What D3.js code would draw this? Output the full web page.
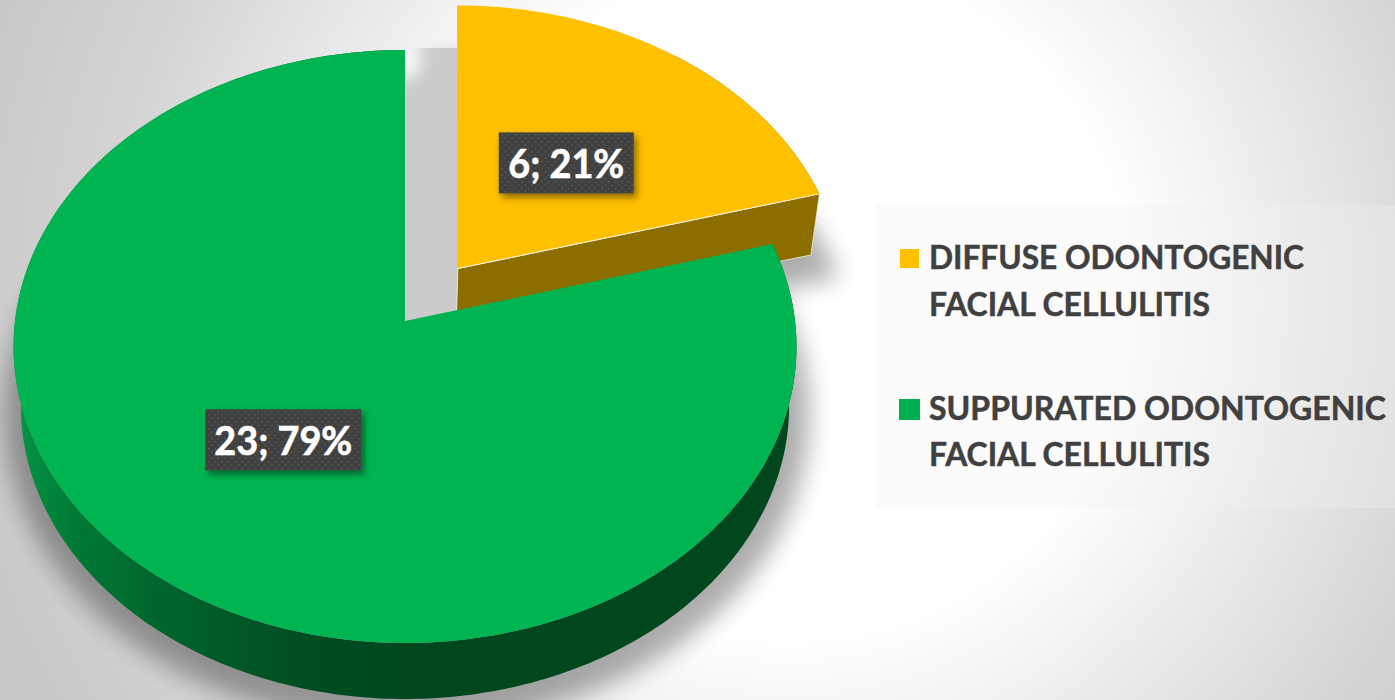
<!DOCTYPE html>
<html>
<head>
<meta charset="utf-8">
<script src="https://cdn.jsdelivr.net/npm/d3@7"></script>
<style>
html, body { margin: 0; padding: 0; background: #fff; overflow: hidden; }
svg { display: block; }
text { font-family: Lato, "Open Sans", sans-serif; font-weight: 700; }
</style>
</head>
<body>
<svg id="chart" width="1395" height="700"></svg>
<script>
const categories = ["DIFFUSE ODONTOGENIC FACIAL CELLULITIS", "SUPPURATED ODONTOGENIC FACIAL CELLULITIS"];
const legendLines = [["DIFFUSE ODONTOGENIC", "FACIAL CELLULITIS"], ["SUPPURATED ODONTOGENIC", "FACIAL CELLULITIS"]];
const counts = [6, 23];
const percentLabels = ["21%", "79%"];
const topColors = ["#FFC000", "#00B451"];
const legendColors = ["#FFC000", "#00B050"];
const explodes = [0.2275, 0];

const svg = d3.select("#chart");
const W = 1395, H = 700;
const defs = svg.append("defs");

// Page backdrop: white glow fading to grey at the corners
const bg = defs.append("radialGradient").attr("id", "backdrop")
  .attr("gradientUnits", "userSpaceOnUse").attr("cx", 790).attr("cy", 300).attr("r", 850);
bg.append("stop").attr("offset", 0.4).attr("stop-color", "#ffffff");
bg.append("stop").attr("offset", 0.8).attr("stop-color", "#d4d4d4");
bg.append("stop").attr("offset", 1).attr("stop-color", "#c8c8c8");
svg.append("rect").attr("width", W).attr("height", H).attr("fill", "url(#backdrop)");

// Perspective plane of the pie: unit-disc coordinates to screen coordinates
const tilt = 0.086;
const topPlane = { x0: 405, y0: 321, rx: 390, ry: 294.3 };
const basePlane = { x0: 405, y0: 380.6, rx: 382.7, ry: 291 };
const project = (plane, u, v) => {
  const w = 1 - tilt * v;
  return [plane.x0 + plane.rx * u / w, plane.y0 + plane.ry * v / w];
};

const arcs = d3.pie().sort(null).startAngle(0).endAngle(2 * Math.PI)(counts);

const offsetOf = (d, i) => {
  const mid = (d.startAngle + d.endAngle) / 2;
  return [explodes[i] * Math.sin(mid), -explodes[i] * Math.cos(mid)];
};
const rimPoints = (plane, d, i) => {
  const [ox, oy] = offsetOf(d, i);
  const n = Math.ceil((d.endAngle - d.startAngle) * 60);
  return d3.range(n + 1).map(k => {
    const t = d.startAngle + (d.endAngle - d.startAngle) * k / n;
    return project(plane, ox + Math.sin(t), oy - Math.cos(t));
  });
};
const apexPoint = (plane, d, i) => {
  const [ox, oy] = offsetOf(d, i);
  return project(plane, ox, oy);
};
const line = d3.line();
const closed = pts => line(pts) + "Z";

// Soft shadow beneath the base of the pie
const blur = defs.append("filter").attr("id", "castShadow")
  .attr("x", "-15%").attr("y", "-15%").attr("width", "130%").attr("height", "130%");
blur.append("feGaussianBlur").attr("stdDeviation", 12);
const shadow = svg.append("g").attr("filter", "url(#castShadow)")
  .attr("transform", "translate(2,9)").attr("opacity", 0.32);
arcs.forEach((d, i) => {
  shadow.append("path")
    .attr("d", closed([apexPoint(basePlane, d, i), ...rimPoints(basePlane, d, i)]))
    .attr("fill", "#000").attr("stroke", "#000").attr("stroke-width", 36);
});

// Grey gap left open by the pulled-out slice
const gapApex = apexPoint(topPlane, arcs[1], 1);
const yellowApex = apexPoint(topPlane, arcs[0], 0);
const greenTop = rimPoints(topPlane, arcs[1], 1).slice(-1)[0];
const gapBox = { x: gapApex[0], y: greenTop[1] - 2, w: yellowApex[0] - gapApex[0], h: gapApex[1] - greenTop[1] + 2 };
defs.append("clipPath").attr("id", "gapClip").append("rect")
  .attr("x", gapBox.x).attr("y", gapBox.y).attr("width", gapBox.w).attr("height", gapBox.h);
const softGlow = defs.append("filter").attr("id", "softGlow")
  .attr("x", "-60%").attr("y", "-60%").attr("width", "220%").attr("height", "220%");
softGlow.append("feGaussianBlur").attr("stdDeviation", 7);
const gap = svg.append("g").attr("clip-path", "url(#gapClip)");
gap.append("rect").attr("x", gapBox.x).attr("y", gapBox.y)
  .attr("width", gapBox.w).attr("height", gapBox.h).attr("fill", "#cbcbcb");
gap.append("ellipse").attr("cx", gapBox.x + 2).attr("cy", gapBox.y + 8)
  .attr("rx", 15).attr("ry", 24).attr("fill", "#f4f4f4").attr("filter", "url(#softGlow)");

// Shading of the outer wall of the large slice
const wall = defs.append("linearGradient").attr("id", "greenWall")
  .attr("gradientUnits", "userSpaceOnUse").attr("x1", 15).attr("x2", 405).attr("y1", 0).attr("y2", 0);
[[0, "#009646"], [0.15, "#007a35"], [0.32, "#006a2d"], [0.5, "#005c27"], [0.75, "#004d21"], [1, "#00471e"]]
  .forEach(([o, c]) => wall.append("stop").attr("offset", o).attr("stop-color", c));

// Pulled-out slice: walls, then its top face, leaning slightly about its apex
const yellow = arcs[0];
const yTop = rimPoints(topPlane, yellow, 0);
const yBase = rimPoints(basePlane, yellow, 0);
const yApexBase = apexPoint(basePlane, yellow, 0);
const visibleFrom = Math.floor(yTop.length / 2);
const yellowGroup = svg.append("g")
  .attr("transform", `translate(${yellowApex}) skewX(-0.7) translate(${-yellowApex[0]},${-yellowApex[1]})`);
yellowGroup.append("path")
  .attr("d", closed([...yTop.slice(visibleFrom), ...yBase.slice(visibleFrom).reverse()]))
  .attr("fill", "#8C6D00");
yellowGroup.append("path")
  .attr("d", closed([yTop[yTop.length - 1], yellowApex, yApexBase, yBase[yBase.length - 1]]))
  .attr("fill", "#8C6D00").attr("stroke", "#fff").attr("stroke-opacity", 0.75).attr("stroke-width", 1);
yellowGroup.append("path")
  .attr("d", closed([yellowApex, ...yTop]))
  .attr("fill", topColors[0]);
yellowGroup.append("path")
  .attr("d", line([yellowApex, yTop[yTop.length - 1]]))
  .attr("fill", "none").attr("stroke", "#fff").attr("stroke-opacity", 0.85).attr("stroke-width", 1);

// Large slice: curved wall, then its top face
const green = arcs[1];
const gTop = rimPoints(topPlane, green, 1);
const gBase = rimPoints(basePlane, green, 1);
svg.append("path")
  .attr("d", closed([...gTop, ...gBase.slice().reverse()]))
  .attr("fill", "url(#greenWall)");
svg.append("path")
  .attr("d", closed([gapApex, ...gTop]))
  .attr("fill", topColors[1]);

// Data labels on dotted dark plates
const dots = defs.append("pattern").attr("id", "plateDots").attr("patternUnits", "userSpaceOnUse")
  .attr("width", 6.67).attr("height", 6.67);
dots.append("rect").attr("width", 6.67).attr("height", 6.67).attr("fill", "#404040");
dots.append("rect").attr("x", 1).attr("y", 1).attr("width", 1.5).attr("height", 1.5).attr("fill", "#5c5c5c");
dots.append("rect").attr("x", 4.33).attr("y", 4.33).attr("width", 1.5).attr("height", 1.5).attr("fill", "#5c5c5c");
const plateShadow = defs.append("filter").attr("id", "plateShadow")
  .attr("x", "-15%").attr("y", "-25%").attr("width", "130%").attr("height", "150%");
plateShadow.append("feDropShadow").attr("dx", 3).attr("dy", 4).attr("stdDeviation", 3.5)
  .attr("flood-color", "#000").attr("flood-opacity", 0.45);

const plateWidths = [135, 156];
const textWidths = [116, 138];
const labelRadii = [0.48, 0.49];
const labelShifts = [2, -2];
arcs.forEach((d, i) => {
  const mid = (d.startAngle + d.endAngle) / 2;
  const [ox, oy] = offsetOf(d, i);
  const [px, cy] = project(topPlane, ox + labelRadii[i] * Math.sin(mid), oy - labelRadii[i] * Math.cos(mid));
  const cx = px + labelShifts[i];
  svg.append("rect")
    .attr("x", cx - plateWidths[i] / 2).attr("y", cy - 30.5)
    .attr("width", plateWidths[i]).attr("height", 61)
    .attr("fill", "url(#plateDots)").attr("filter", "url(#plateShadow)");
  svg.append("text")
    .attr("x", cx).attr("y", cy + 15.5)
    .attr("text-anchor", "middle").attr("fill", "#fff").attr("font-size", 41)
    .attr("stroke", "#fff").attr("stroke-width", 0.7)
    .attr("textLength", textWidths[i]).attr("lengthAdjust", "spacingAndGlyphs")
    .text(`${d.value}; ${percentLabels[i]}`);
});

// Legend panel
svg.append("rect").attr("x", 876).attr("y", 205).attr("width", 519).attr("height", 303)
  .attr("fill", "#f2f2f2").attr("fill-opacity", 0.3);
const markers = [{ x: 900, y: 249, s: 19 }, { x: 899, y: 399, s: 21 }];
const baselines = [[269, 316], [420, 466]];
const lineWidths = [[375, 281], [457, 281]];
const legend = svg.append("g").selectAll("g").data(categories).join("g");
legend.append("rect")
  .attr("x", (d, i) => markers[i].x).attr("y", (d, i) => markers[i].y)
  .attr("width", (d, i) => markers[i].s).attr("height", (d, i) => markers[i].s)
  .attr("fill", (d, i) => legendColors[i]);
legend.each(function (d, i) {
  d3.select(this).selectAll("text").data(legendLines[i]).join("text")
    .attr("x", 929).attr("y", (t, j) => baselines[i][j])
    .attr("fill", "#404040").attr("stroke", "#404040").attr("stroke-width", 0.5).attr("font-size", 32)
    .attr("textLength", (t, j) => lineWidths[i][j]).attr("lengthAdjust", "spacingAndGlyphs")
    .text(t => t);
});
</script>
</body>
</html>
